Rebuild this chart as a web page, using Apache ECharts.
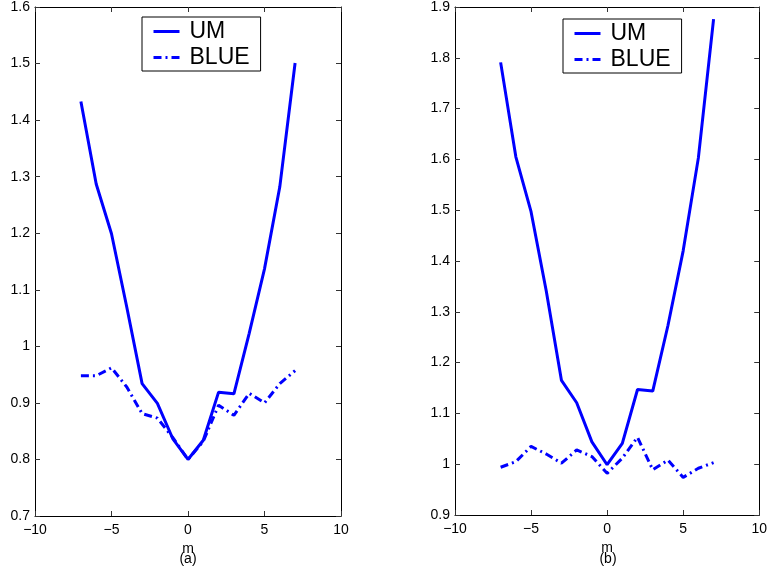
<!DOCTYPE html>
<html>
<head>
<meta charset="utf-8">
<script src="https://cdn.jsdelivr.net/npm/echarts@6/dist/echarts.min.js"></script>
<style>
html,body{margin:0;padding:0;background:#fff;}
#chart{width:770px;height:571px;}
</style>
</head>
<body>
<div id="chart"></div>
<script>
// Data
const mValues = [-7, -6, -5, -4, -3, -2, -1, 0, 1, 2, 3, 4, 5, 6, 7];
const umA   = [1.433, 1.287, 1.199, 1.069, 0.934, 0.899, 0.837, 0.800, 0.834, 0.919, 0.916, 1.023, 1.137, 1.282, 1.501];
const blueA = [0.948, 0.948, 0.962, 0.928, 0.881, 0.873, 0.839, 0.800, 0.832, 0.896, 0.878, 0.917, 0.900, 0.934, 0.957];
const umB   = [1.791, 1.605, 1.497, 1.341, 1.165, 1.121, 1.044, 0.999, 1.041, 1.147, 1.144, 1.273, 1.420, 1.603, 1.876];
const blueB = [0.994, 1.005, 1.035, 1.020, 1.002, 1.028, 1.015, 0.982, 1.012, 1.053, 0.989, 1.008, 0.974, 0.992, 1.003];
const seriesNames = ['UM', 'BLUE'];
const panelLabels = ['(a)', '(b)'];
const xLabelName = 'm';

const pairs = (ys) => mValues.map((x, i) => [x, ys[i]]);
const FONT = 'Liberation Sans, Arial, Helvetica, sans-serif';
const BLUE = '#0000ff';
const dashDot = [8, 4, 2, 4];

function xAx(grid, top) {
  return {
    type: 'value', gridIndex: grid, min: -10, max: 10, interval: 5,
    position: top ? 'top' : 'bottom',
    name: top ? '' : xLabelName, nameLocation: 'middle', nameGap: 21,
    nameTextStyle: { color: '#000', fontSize: 14, fontFamily: FONT },
    axisLine: { show: true, onZero: false, lineStyle: { color: '#000', width: 1 } },
    axisTick: { show: true, inside: true, length: 5, lineStyle: { color: '#333' } },
    axisLabel: { show: !top, color: '#000', fontSize: 14, fontFamily: FONT, margin: 7,
      formatter: v => (v < 0 ? '\u2212' + Math.abs(v) : String(v)) },
    splitLine: { show: false }
  };
}
function yAx(grid, right, min, max) {
  return {
    type: 'value', gridIndex: grid, min: min, max: max, interval: 0.1,
    position: right ? 'right' : 'left',
    axisLine: { show: true, onZero: false, lineStyle: { color: '#000', width: 1 } },
    axisTick: { show: true, inside: true, length: 5, lineStyle: { color: '#333' } },
    axisLabel: { show: !right, color: '#000', fontSize: 14, fontFamily: FONT, margin: 5,
      showMinLabel: true, showMaxLabel: true,
      formatter: v => String(Math.round(v * 10) / 10) },
    splitLine: { show: false }
  };
}
function legend(left, top) {
  return {
    left: left, top: top, orient: 'vertical',
    backgroundColor: '#fff', borderColor: '#000', borderWidth: 1,
    padding: [3, 11, 2, 10], itemGap: 3, itemWidth: 26, itemHeight: 14,
    itemStyle: { opacity: 0 },
    textStyle: { color: '#000', fontSize: 23, fontFamily: FONT, lineHeight: 21, padding: [0, 0, 0, 5] },
    data: [
      { name: seriesNames[0], lineStyle: { type: 'solid', width: 3, color: BLUE } },
      { name: seriesNames[1], lineStyle: { type: dashDot, width: 3, color: BLUE } }
    ]
  };
}

const option = {
  backgroundColor: '#fff',
  animation: false,
  title: [
    { text: panelLabels[0], left: 188, top: 552, textAlign: 'center', padding: 0,
      textStyle: { color: '#000', fontSize: 14, fontWeight: 'normal', fontFamily: FONT } },
    { text: panelLabels[1], left: 608, top: 552, textAlign: 'center', padding: 0,
      textStyle: { color: '#000', fontSize: 14, fontWeight: 'normal', fontFamily: FONT } }
  ],
  grid: [
    { left: 35, top: 6, width: 306, height: 510 },
    { left: 455, top: 6, width: 306, height: 509 }
  ],
  xAxis: [xAx(0, false), xAx(0, true), xAx(1, false), xAx(1, true)],
  yAxis: [yAx(0, false, 0.7, 1.6), yAx(0, true, 0.7, 1.6), yAx(1, false, 0.9, 1.9), yAx(1, true, 0.9, 1.9)],
  legend: [legend(142, 17), legend(563, 19)],
  series: [
    { name: seriesNames[0], type: 'line', xAxisIndex: 0, yAxisIndex: 0, data: pairs(umA),
      symbol: 'none', lineStyle: { color: BLUE, width: 3 }, itemStyle: { color: BLUE } },
    { name: seriesNames[1], type: 'line', xAxisIndex: 0, yAxisIndex: 0, data: pairs(blueA),
      symbol: 'none', lineStyle: { color: BLUE, width: 3, type: dashDot }, itemStyle: { color: BLUE } },
    { name: seriesNames[0], type: 'line', xAxisIndex: 2, yAxisIndex: 2, data: pairs(umB),
      symbol: 'none', lineStyle: { color: BLUE, width: 3 }, itemStyle: { color: BLUE } },
    { name: seriesNames[1], type: 'line', xAxisIndex: 2, yAxisIndex: 2, data: pairs(blueB),
      symbol: 'none', lineStyle: { color: BLUE, width: 3, type: dashDot }, itemStyle: { color: BLUE } }
  ]
};

const chart = echarts.init(document.getElementById('chart'), null, { renderer: 'canvas' });
chart.setOption(option);
</script>
</body>
</html>
